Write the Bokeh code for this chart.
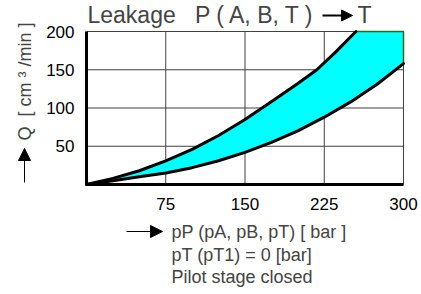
import math
from bokeh.plotting import figure
from bokeh.models import Label, Arrow, NormalHead, Range1d
from bokeh.core.properties import value
from bokeh.embed import file_html
from bokeh.resources import INLINE

# data
upper_x = [0, 25, 50, 75, 100, 125, 150, 177, 200, 218, 235, 255]
upper_y = [0, 8, 18, 31, 46, 64, 85, 110, 132, 150, 172, 200]
lower_x = [0, 25, 50, 75, 100, 125, 150, 175, 200, 225, 250, 275, 300]
lower_y = [0, 5, 10, 15, 22, 31, 42, 55, 70, 88, 108, 131, 158]
x_ticks = [75, 150, 225, 300]
y_ticks = [50, 100, 150, 200]
NB = "\u00a0"
title_text = "Leakage" + NB * 3 + "P ( A, B, T )"
title_tail = "T"
ylabel_text = "Q" + NB * 2 + "[ cm ³ /min ]"
xlabel_lines = ["pP (pA, pB, pT) [ bar ]", "pT (pT1) = 0 [bar]", "Pilot stage closed"]

FONT = "Liberation Sans"
x_max = x_ticks[-1]
y_max = y_ticks[-1]

W, H = 421, 294
# chart frame location on the canvas (px)
FL, FR, FT, FB = 86, 403, 31, 184


def dx(px):
    return (px - FL) / (FR - FL) * x_max


def dy(py):
    return (FB - py) / (FB - FT) * y_max


p = figure(width=W, height=H, x_range=Range1d(dx(0), dx(W)), y_range=Range1d(dy(H), dy(0)),
           output_backend="svg", toolbar_location=None,
           x_axis_location=None, y_axis_location=None,
           min_border_left=0, min_border_right=0, min_border_top=0, min_border_bottom=0)
p.outline_line_color = None
p.background_fill_color = "white"
p.xgrid.visible = False
p.ygrid.visible = False

# grid lines at the tick values
p.segment(x0=x_ticks, y0=[0] * len(x_ticks), x1=x_ticks, y1=[y_max] * len(x_ticks),
          line_color="#404040", line_width=1)
p.segment(x0=[0] * len(y_ticks), y0=y_ticks, x1=[x_max] * len(y_ticks), y1=y_ticks,
          line_color="#404040", line_width=1)

# filled band between curves, clipped at top of chart
fill_x = upper_x + [x_max] + lower_x[::-1]
fill_y = upper_y + [y_max] + lower_y[::-1]
p.patch(fill_x, fill_y, fill_color="#00ffff", line_color="#1f6f1f", line_width=1.5)

p.line(upper_x, upper_y, line_color="black", line_width=3, line_join="round", line_cap="round")
p.line(lower_x, lower_y, line_color="black", line_width=3, line_join="round", line_cap="round")

# axis lines
p.line([0, 0], [0, y_max], line_color="black", line_width=3)
p.line([0, x_max], [0, 0], line_color="black", line_width=3)

# tick labels
p.text(x=x_ticks, y=[dy(197)] * len(x_ticks), text=[str(t) for t in x_ticks],
       text_font=value(FONT), text_font_size="17px", text_align="center",
       text_baseline="top", text_color="black")
p.text(x=[dx(74)] * len(y_ticks), y=y_ticks, text=[str(t) for t in y_ticks],
       text_font=value(FONT), text_font_size="17px", text_align="right",
       text_baseline="middle", text_color="black")

# title
p.add_layout(Label(x=dx(87), y=dy(14.5), text=title_text, text_font=FONT,
                   text_font_size="23px", text_baseline="middle", text_align="left"))
p.add_layout(Label(x=dx(357), y=dy(14.5), text=title_tail, text_font=FONT,
                   text_font_size="23px", text_baseline="middle", text_align="left"))
p.add_layout(Arrow(x_start=dx(322), y_start=dy(15), x_end=dx(352), y_end=dy(15),
                   line_width=2, line_color="black",
                   end=NormalHead(size=11, fill_color="black", line_color="black")))

# y-axis label with arrow
p.add_layout(Label(x=dx(24), y=dy(140), text=ylabel_text, angle=math.pi / 2,
                   text_font=FONT, text_font_size="18px",
                   text_baseline="middle", text_align="left"))
p.add_layout(Arrow(x_start=dx(24), y_start=dy(182), x_end=dx(24), y_end=dy(148),
                   line_width=1, line_color="black",
                   end=NormalHead(size=12, fill_color="black", line_color="black")))

# x-axis label lines with arrow
p.add_layout(Arrow(x_start=dx(126), y_start=dy(231), x_end=dx(162), y_end=dy(231),
                   line_width=1, line_color="black",
                   end=NormalHead(size=12, fill_color="black", line_color="black")))
for txt, mid in zip(xlabel_lines, [231, 254, 276]):
    p.add_layout(Label(x=dx(171), y=dy(mid), text=txt, text_font=FONT,
                       text_font_size="18px", text_baseline="middle", text_align="left"))

open("out.html", "w").write(file_html(p, INLINE))
